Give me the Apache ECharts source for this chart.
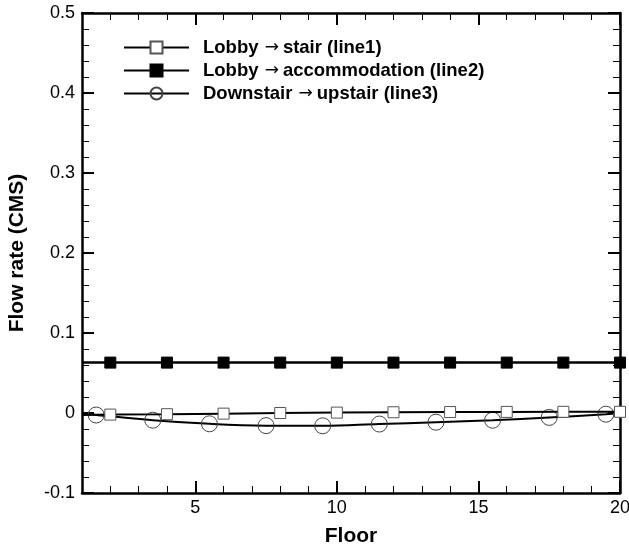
<!DOCTYPE html>
<html>
<head>
<meta charset="utf-8">
<script src="https://cdn.jsdelivr.net/npm/echarts@6/dist/echarts.min.js"></script>
<style>
html,body{margin:0;padding:0;background:#fff;}
#chart{width:629px;height:548px;}
</style>
</head>
<body>
<div id="chart"></div>
<script>
// ---- data ----
const seriesNames = [
  'Lobby \u2192 stair (line1)',
  'Lobby \u2192 accommodation (line2)',
  'Downstair \u2192 upstair (line3)'
];
// line1: floor positions and flow rates (first point is line start, no marker)
const line1Floors = [1, 2, 4, 6, 8, 10, 12, 14, 16, 18, 20];
const line1Values = [-0.0025, -0.002, -0.0015, -0.0008, 0.0, 0.0005, 0.0009, 0.0012, 0.0014, 0.0015, 0.0015];
// line2
const line2Floors = [1, 2, 4, 6, 8, 10, 12, 14, 16, 18, 20];
const line2Values = [0.063, 0.063, 0.063, 0.063, 0.063, 0.063, 0.063, 0.063, 0.063, 0.063, 0.063];
// line3 (first and last points are line ends, no marker)
const line3Floors = [1, 1.5, 3.5, 5.5, 7.5, 9.5, 11.5, 13.5, 15.5, 17.5, 19.5, 20];
const line3Values = [-0.001, -0.0025, -0.009, -0.0135, -0.0158, -0.016, -0.0138, -0.0115, -0.009, -0.0055, -0.0015, 0.0];
const line1NoMarker = [0];
const line2NoMarker = [0];
const line3NoMarker = [0, 11];

// ticks
const xMajorTicks = [5, 10, 15, 20];
const xMajorLabels = ['5', '10', '15', '20'];
const xMinorTicks = [2, 3, 4, 6, 7, 8, 9, 11, 12, 13, 14, 16, 17, 18, 19];
const yTicks = [-0.1, 0, 0.1, 0.2, 0.3, 0.4, 0.5];
const yTickLabels = ['-0.1', '0', '0.1', '0.2', '0.3', '0.4', '0.5'];

function buildData(xs, ys, noMarker) {
  return xs.map((x, i) => noMarker.indexOf(i) >= 0
    ? { value: [x, ys[i]], symbol: 'none' }
    : [x, ys[i]]);
}

const FONT = '"Liberation Sans", Arial, sans-serif';
const chart = echarts.init(document.getElementById('chart'));

function xAxisCfg(position, ticks, len, labels, showLine, name) {
  return {
    type: 'value', position: position, min: 1, max: 20,
    name: name || '', nameLocation: 'middle', nameGap: 33,
    nameTextStyle: { fontFamily: FONT, fontWeight: 'bold', fontSize: 21, color: '#000' },
    axisLine: { show: showLine, onZero: false, lineStyle: { color: '#000', width: 2.5 } },
    axisTick: { show: true, inside: true, length: len, customValues: ticks, lineStyle: { color: '#000', width: len > 10 ? 2 : 1 } },
    axisLabel: labels ? {
      show: true, customValues: xMajorTicks, margin: 6,
      fontFamily: FONT, fontSize: 18, color: '#000',
      formatter: v => xMajorLabels[xMajorTicks.indexOf(v)]
    } : { show: false },
    splitLine: { show: false }
  };
}

function yAxisCfg(position, labels, name) {
  return {
    type: 'value', position: position, min: -0.1, max: 0.5, interval: 0.1,
    name: name || '', nameLocation: 'middle', nameGap: 54,
    nameTextStyle: { fontFamily: FONT, fontWeight: 'bold', fontSize: 21, color: '#000' },
    axisLine: { show: true, onZero: false, lineStyle: { color: '#000', width: 2.5 } },
    axisTick: { show: true, inside: true, length: 12, lineStyle: { color: '#000', width: 2 } },
    minorTick: { show: true, splitNumber: 5, length: 7, lineStyle: { color: '#000', width: 1 } },
    axisLabel: labels ? {
      show: true, margin: 7, fontFamily: FONT, fontSize: 18, color: '#000',
      formatter: v => {
        let best = 0;
        for (let i = 0; i < yTicks.length; i++) if (Math.abs(yTicks[i] - v) < Math.abs(yTicks[best] - v)) best = i;
        return yTickLabels[best];
      }
    } : { show: false },
    splitLine: { show: false }
  };
}

const txt = { fontFamily: FONT, fontWeight: 'bold', fontSize: 18.5, color: '#000', lineHeight: 18 };

chart.setOption({
  backgroundColor: '#fff',
  animation: false,
  grid: { left: 82, right: 9, top: 13, bottom: 55, containLabel: false, outerBoundsMode: 'none' },
  legend: {
    orient: 'vertical', left: 123, top: 38, padding: 0,
    itemWidth: 65, itemHeight: 15, itemGap: 4,
    textStyle: Object.assign({}, txt, {
      padding: [0, 0, 0, 9],
      rich: {
        t: txt,
        arr: { fontFamily: '"DejaVu Sans", sans-serif', fontWeight: 'normal', fontSize: 17, color: '#000', lineHeight: 18, padding: [0, 4, 0, 1] }
      }
    }),
    formatter: name => {
      const parts = name.split('\u2192');
      return '{t|' + parts[0].trim() + ' }{arr|\u2192}{t|' + parts[1].trim() + '}';
    },
    data: seriesNames
  },
  xAxis: [
    xAxisCfg('bottom', xMajorTicks, 12, true, true, 'Floor'),
    xAxisCfg('bottom', xMinorTicks, 7, false, false),
    xAxisCfg('top', xMajorTicks, 12, false, true),
    xAxisCfg('top', xMinorTicks, 7, false, false)
  ],
  yAxis: [
    yAxisCfg('left', true, 'Flow rate (CMS)'),
    yAxisCfg('right', false)
  ],
  series: [
    {
      name: seriesNames[0], type: 'line', xAxisIndex: 0, yAxisIndex: 0,
      data: buildData(line1Floors, line1Values, line1NoMarker),
      symbol: 'rect', symbolSize: 11,
      lineStyle: { color: '#000', width: 2 },
      itemStyle: { color: '#fff', borderColor: '#555', borderWidth: 1 },
      z: 3
    },
    {
      name: seriesNames[1], type: 'line', xAxisIndex: 0, yAxisIndex: 0,
      data: buildData(line2Floors, line2Values, line2NoMarker),
      symbol: 'rect', symbolSize: 11,
      lineStyle: { color: '#000', width: 2.5 },
      itemStyle: { color: '#000', borderColor: '#000', borderWidth: 1 },
      z: 3
    },
    {
      name: seriesNames[2], type: 'line', xAxisIndex: 0, yAxisIndex: 0,
      data: buildData(line3Floors, line3Values, line3NoMarker),
      symbol: 'circle', symbolSize: 16, smooth: 0.4,
      lineStyle: { color: '#000', width: 2 },
      itemStyle: { color: 'rgba(255,255,255,0)', borderColor: '#444', borderWidth: 1 },
      z: 2
    }
  ]
});
</script>
</body>
</html>
